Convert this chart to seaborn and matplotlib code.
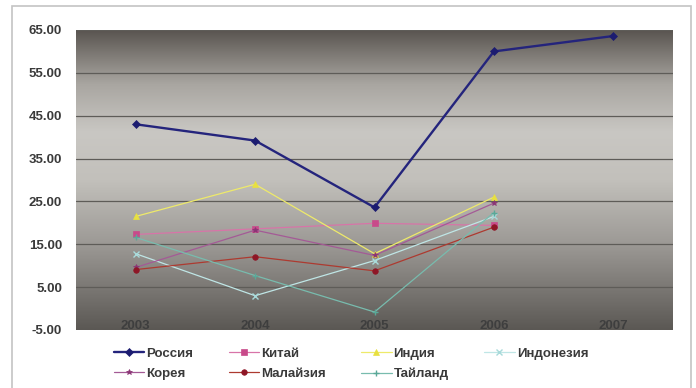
import numpy as np
import pandas as pd
import matplotlib
matplotlib.use("Agg")
import matplotlib.pyplot as plt
from matplotlib.colors import LinearSegmentedColormap
from matplotlib.patches import Rectangle
import seaborn as sns

# ---- data -------------------------------------------------------------
years = [2003, 2004, 2005, 2006, 2007]
russia = [43.0, 39.2, 23.6, 60.0, 63.6]
china = [17.3, 18.6, 19.9, 19.4, np.nan]
india = [21.5, 29.0, 12.8, 26.0, np.nan]
indonesia = [12.8, 3.0, 11.2, 21.5, np.nan]
korea = [9.6, 18.3, 12.4, 24.6, np.nan]
malaysia = [9.1, 12.1, 8.8, 19.0, np.nan]
thailand = [16.6, 7.7, -0.8, 22.4, np.nan]

series_names = ["Россия", "Китай", "Индия", "Индонезия", "Корея", "Малайзия", "Тайланд"]
series_values = [russia, china, india, indonesia, korea, malaysia, thailand]
y_ticks = [-5, 5, 15, 25, 35, 45, 55, 65]

# ---- styles -----------------------------------------------------------
colors = {
    "Россия": "#24247c",
    "Китай": "#d874a8",
    "Индия": "#eeea6a",
    "Индонезия": "#bfe6e6",
    "Корея": "#a45a96",
    "Малайзия": "#ad3a30",
    "Тайланд": "#78bcae",
}
marker_colors = {
    "Россия": "#1c1c70",
    "Китай": "#c84a8a",
    "Индия": "#e8e040",
    "Индонезия": "#a8dada",
    "Корея": "#8a3474",
    "Малайзия": "#8e1626",
    "Тайланд": "#5aa898",
}
markers = {
    "Россия": "D", "Китай": "s", "Индия": "^", "Индонезия": "x",
    "Корея": "*", "Малайзия": "o", "Тайланд": "+",
}

records = []
for name, vals in zip(series_names, series_values):
    for yr, v in zip(years, vals):
        records.append({"year": yr, "value": v, "series": name})
df = pd.DataFrame(records).dropna()

sns.set_theme(style="white")
plt.rcParams["font.family"] = ["Liberation Sans", "DejaVu Sans"]

fig = plt.figure(figsize=(6.96, 3.88), dpi=100)
ax = fig.add_axes([76 / 696, 1 - 330 / 388, 597 / 696, 300 / 388])

# outer chart frame
fig.patches.append(Rectangle((12 / 696, -0.05), 679 / 696, 1.05 - 6 / 388,
                             transform=fig.transFigure, fill=False,
                             edgecolor="#c4c4c4", linewidth=1.2, zorder=0))

# plot-area gradient: dark top, light middle, dark bottom
grad = LinearSegmentedColormap.from_list(
    "plotarea",
    [(0.0, "#5b5854"), (0.28, "#9b9894"), (0.5, "#c2c0bb"),
     (0.66, "#c9c7c3"), (0.82, "#a9a6a1"), (0.92, "#7e7a75"), (1.0, "#5a5551")])
ax.imshow(np.linspace(1, 0, 256).reshape(-1, 1), cmap=grad, aspect="auto",
          extent=[0, 1, 0, 1], transform=ax.transAxes, zorder=0,
          interpolation="bilinear")

for yv in y_ticks[1:]:
    ax.axhline(yv, color="#5e5c58", linewidth=0.9, zorder=1)

for name in series_names:
    sub = df[df["series"] == name]
    is_main = name == "Россия"
    sns.lineplot(data=sub, x="year", y="value", ax=ax,
                 color=colors[name], linewidth=1.7 if is_main else 0.9,
                 marker=markers[name], markersize=4.5 if is_main else 4,
                 markerfacecolor=marker_colors[name],
                 markeredgecolor=marker_colors[name],
                 markeredgewidth=1.0 if markers[name] in "x+" else 0.5,
                 label=name, legend=False, zorder=3 if is_main else 2)

ax.set_xlim(years[0] - 0.5, years[-1] + 0.5)
ax.set_ylim(y_ticks[0], y_ticks[-1])
ax.set_xticks(years)
ax.set_xticklabels([str(y) for y in years])
ax.set_yticks(y_ticks)
ax.set_yticklabels([f"{v:.2f}" for v in y_ticks])
ax.set_xlabel("")
ax.set_ylabel("")
for s in ax.spines.values():
    s.set_visible(False)
ax.tick_params(axis="y", length=0, pad=10, labelsize=9.5, labelcolor="#3a3a3a")
ax.tick_params(axis="x", length=0, pad=-7, labelsize=9.5, labelcolor="#3e3e3e")
for lbl in ax.get_xticklabels() + ax.get_yticklabels():
    lbl.set_fontweight("bold")

# legend, filled row by row
handles, labels = ax.get_legend_handles_labels()
order = [0, 4, 1, 5, 2, 6, 3]
leg = fig.legend([handles[i] for i in order], [labels[i] for i in order],
                 loc="center", bbox_to_anchor=(351 / 696, 1 - 364 / 388),
                 ncol=4, frameon=False, fontsize=9.5, handlelength=2.3,
                 handletextpad=0.15, columnspacing=2.7, labelspacing=0.6,
                 borderpad=0)
for t in leg.get_texts():
    t.set_color("#3a3a3a")
    t.set_fontweight("bold")

fig.savefig("out.png", dpi=100, facecolor="white")
